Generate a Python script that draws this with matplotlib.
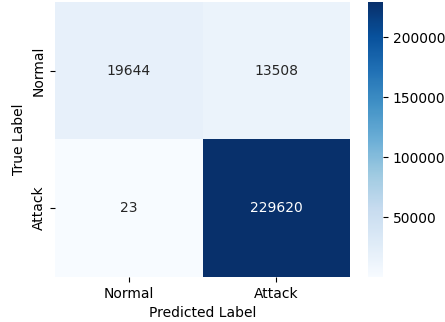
import numpy as np
import matplotlib
matplotlib.use('Agg')
import matplotlib.pyplot as plt
import seaborn as sns

# Confusion matrix values
labels = ['Normal', 'Attack']
cm = np.array([[19644, 13508],
               [23, 229620]])

fig = plt.figure(figsize=(4.45, 3.22), dpi=100)
ax = fig.add_axes([0.124, 0.14, 0.663, 0.854])
cax = fig.add_axes([0.827, 0.14, 0.034, 0.854])

sns.heatmap(cm, annot=True, fmt='d', cmap='Blues',
            xticklabels=labels, yticklabels=labels,
            ax=ax, cbar_ax=cax)
ax.set_xlabel('Predicted Label')
ax.set_ylabel('True Label')

fig.savefig('out.png', dpi=100)
